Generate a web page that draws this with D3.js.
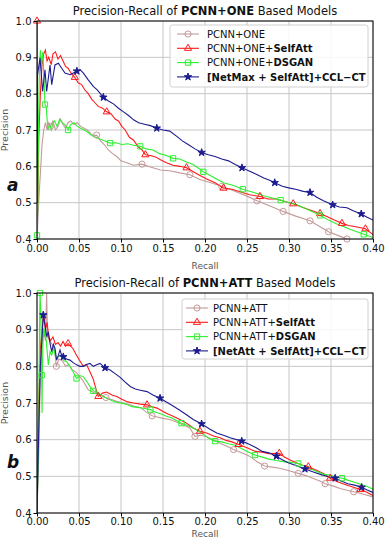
<!DOCTYPE html>
<html>
<head>
<meta charset="utf-8">
<script src="https://cdn.jsdelivr.net/npm/d3@7"></script>
<style>
  body { margin: 0; background: #fff; }
  text { font-family: "DejaVu Sans", sans-serif; }
</style>
</head>
<body>
<svg id="chart" width="387" height="537"></svg>
<script>
// ---- data: [recall, precision] ----
var xTicks = [0, 0.05, 0.10, 0.15, 0.20, 0.25, 0.30, 0.35, 0.40];
var yTicks = [0.4, 0.5, 0.6, 0.7, 0.8, 0.9, 1.0];

// panel a : PCNN+ONE based
var oneBase = [[0.000,0.40],[0.002,0.50],[0.004,0.58],[0.006,0.66],[0.008,0.70],[0.010,0.72],[0.012,0.70],[0.014,0.72],[0.016,0.71],[0.019,0.725],[0.022,0.70],[0.025,0.71],[0.028,0.73],[0.031,0.715],[0.034,0.705],[0.037,0.72],[0.040,0.725],[0.044,0.715],[0.048,0.72],[0.052,0.71],[0.056,0.705],[0.060,0.70],[0.064,0.69],[0.068,0.685],[0.071,0.686],[0.075,0.672],[0.080,0.66],[0.085,0.645],[0.090,0.635],[0.095,0.627],[0.100,0.615],[0.107,0.61],[0.115,0.603],[0.125,0.606],[0.135,0.598],[0.147,0.59],[0.158,0.588],[0.170,0.582],[0.182,0.577],[0.194,0.564],[0.205,0.556],[0.220,0.545],[0.235,0.532],[0.250,0.518],[0.262,0.505],[0.278,0.49],[0.293,0.476],[0.308,0.463],[0.325,0.45],[0.336,0.435],[0.347,0.42],[0.358,0.41],[0.369,0.40],[0.380,0.39]];
var oneBaseMarks = [0.016, 0.071, 0.125, 0.182, 0.220, 0.262, 0.293, 0.325, 0.347, 0.369];

var oneSelf = [[0.000,1.0],[0.001,0.50],[0.002,0.67],[0.004,0.80],[0.006,0.88],[0.008,0.91],[0.010,0.92],[0.012,0.89],[0.014,0.90],[0.017,0.88],[0.019,0.91],[0.022,0.915],[0.025,0.895],[0.028,0.905],[0.031,0.89],[0.034,0.875],[0.037,0.87],[0.041,0.855],[0.045,0.845],[0.049,0.83],[0.053,0.825],[0.057,0.81],[0.061,0.80],[0.065,0.785],[0.069,0.775],[0.073,0.765],[0.078,0.76],[0.083,0.75],[0.088,0.745],[0.093,0.73],[0.097,0.725],[0.101,0.71],[0.105,0.70],[0.110,0.68],[0.115,0.672],[0.120,0.655],[0.125,0.645],[0.129,0.632],[0.135,0.63],[0.141,0.626],[0.147,0.618],[0.154,0.61],[0.162,0.603],[0.170,0.60],[0.178,0.596],[0.186,0.585],[0.194,0.575],[0.202,0.565],[0.212,0.555],[0.222,0.54],[0.232,0.537],[0.242,0.53],[0.253,0.522],[0.2655,0.517],[0.275,0.51],[0.285,0.51],[0.295,0.503],[0.305,0.497],[0.315,0.488],[0.325,0.48],[0.337,0.47],[0.345,0.462],[0.354,0.452],[0.363,0.443],[0.371,0.437],[0.381,0.433],[0.391,0.428],[0.400,0.412]];
var oneSelfMarks = [0.000, 0.045, 0.083, 0.129, 0.178, 0.222, 0.2655, 0.305, 0.337, 0.363, 0.391];

var oneGan = [[0.000,0.41],[0.001,0.50],[0.002,0.75],[0.003,0.88],[0.004,0.92],[0.005,0.87],[0.006,0.90],[0.007,0.915],[0.008,0.86],[0.0095,0.77],[0.011,0.765],[0.012,0.73],[0.013,0.70],[0.015,0.715],[0.017,0.70],[0.019,0.72],[0.021,0.725],[0.024,0.71],[0.027,0.73],[0.030,0.72],[0.033,0.715],[0.037,0.70],[0.040,0.715],[0.044,0.72],[0.048,0.71],[0.052,0.705],[0.056,0.70],[0.060,0.695],[0.065,0.685],[0.070,0.68],[0.075,0.675],[0.081,0.67],[0.087,0.664],[0.094,0.665],[0.101,0.66],[0.108,0.662],[0.115,0.658],[0.123,0.655],[0.130,0.648],[0.138,0.645],[0.146,0.635],[0.154,0.63],[0.162,0.622],[0.170,0.62],[0.178,0.612],[0.186,0.605],[0.198,0.585],[0.210,0.57],[0.222,0.555],[0.233,0.548],[0.245,0.537],[0.258,0.528],[0.270,0.519],[0.280,0.513],[0.290,0.507],[0.300,0.50],[0.309,0.495],[0.318,0.485],[0.328,0.475],[0.337,0.465],[0.347,0.452],[0.357,0.441],[0.366,0.433],[0.375,0.425],[0.389,0.413],[0.400,0.404]];
var oneGanMarks = [0.000, 0.0095, 0.037, 0.087, 0.123, 0.162, 0.198, 0.245, 0.290, 0.337, 0.389];

var oneNet = [[0.000,0.50],[0.0005,0.85],[0.0036,0.898],[0.0067,0.806],[0.0095,0.866],[0.0115,0.806],[0.0155,0.879],[0.0175,0.825],[0.0214,0.879],[0.0254,0.884],[0.0294,0.87],[0.0333,0.857],[0.0393,0.852],[0.0433,0.857],[0.0475,0.862],[0.0512,0.866],[0.055,0.857],[0.061,0.838],[0.067,0.82],[0.072,0.81],[0.079,0.79],[0.085,0.78],[0.091,0.772],[0.097,0.76],[0.103,0.75],[0.109,0.74],[0.115,0.728],[0.121,0.72],[0.128,0.716],[0.135,0.712],[0.1426,0.705],[0.150,0.70],[0.158,0.697],[0.166,0.683],[0.173,0.67],[0.180,0.66],[0.188,0.648],[0.196,0.638],[0.204,0.632],[0.212,0.627],[0.220,0.62],[0.228,0.615],[0.236,0.605],[0.244,0.596],[0.252,0.588],[0.261,0.578],[0.270,0.568],[0.277,0.562],[0.283,0.555],[0.292,0.545],[0.301,0.54],[0.309,0.536],[0.317,0.531],[0.325,0.528],[0.333,0.515],[0.341,0.505],[0.352,0.494],[0.360,0.488],[0.369,0.486],[0.377,0.477],[0.386,0.469],[0.393,0.46],[0.400,0.452]];
var oneNetMarks = [0.0475, 0.079, 0.1426, 0.196, 0.244, 0.283, 0.325, 0.352, 0.386];

// panel b : PCNN+ATT based
var attBase = [[0.000,0.40],[0.002,0.55],[0.004,0.78],[0.006,0.86],[0.008,0.90],[0.010,0.87],[0.0115,1.0],[0.0125,0.88],[0.015,0.87],[0.018,0.86],[0.021,0.845],[0.023,0.80],[0.026,0.82],[0.030,0.815],[0.034,0.80],[0.038,0.805],[0.042,0.79],[0.046,0.785],[0.050,0.775],[0.055,0.76],[0.061,0.736],[0.068,0.728],[0.075,0.723],[0.082,0.715],[0.088,0.71],[0.095,0.705],[0.103,0.70],[0.111,0.695],[0.117,0.69],[0.123,0.688],[0.130,0.675],[0.137,0.665],[0.143,0.662],[0.150,0.658],[0.158,0.655],[0.166,0.648],[0.174,0.64],[0.182,0.632],[0.188,0.609],[0.195,0.612],[0.202,0.608],[0.210,0.60],[0.218,0.59],[0.226,0.582],[0.234,0.573],[0.243,0.565],[0.253,0.555],[0.262,0.54],[0.271,0.528],[0.280,0.525],[0.289,0.522],[0.300,0.515],[0.311,0.508],[0.320,0.502],[0.329,0.494],[0.336,0.488],[0.343,0.48],[0.352,0.474],[0.361,0.467],[0.369,0.462],[0.377,0.458],[0.388,0.452],[0.400,0.444]];
var attBaseMarks = [0.023, 0.082, 0.137, 0.188, 0.234, 0.271, 0.311, 0.343, 0.377];

var attSelf = [[0.000,0.40],[0.002,0.70],[0.004,0.85],[0.006,0.90],[0.008,0.945],[0.010,0.90],[0.012,0.92],[0.014,0.88],[0.016,0.87],[0.019,0.88],[0.022,0.86],[0.025,0.865],[0.028,0.855],[0.031,0.868],[0.034,0.855],[0.037,0.862],[0.040,0.855],[0.043,0.848],[0.047,0.83],[0.051,0.815],[0.055,0.80],[0.059,0.805],[0.063,0.785],[0.067,0.765],[0.070,0.74],[0.073,0.718],[0.078,0.727],[0.083,0.73],[0.089,0.722],[0.095,0.718],[0.101,0.71],[0.108,0.703],[0.115,0.70],[0.123,0.697],[0.131,0.695],[0.137,0.69],[0.143,0.686],[0.150,0.677],[0.156,0.67],[0.162,0.664],[0.170,0.655],[0.178,0.645],[0.186,0.632],[0.194,0.623],[0.202,0.618],[0.210,0.61],[0.218,0.605],[0.225,0.598],[0.232,0.594],[0.240,0.587],[0.250,0.578],[0.260,0.568],[0.268,0.566],[0.276,0.562],[0.2885,0.563],[0.295,0.552],[0.302,0.544],[0.310,0.536],[0.316,0.53],[0.323,0.526],[0.332,0.517],[0.341,0.508],[0.349,0.495],[0.357,0.486],[0.365,0.479],[0.373,0.473],[0.385,0.464],[0.392,0.457],[0.400,0.448]];
var attSelfMarks = [0.037, 0.073, 0.131, 0.194, 0.240, 0.2885, 0.323, 0.349, 0.385];

var attGan = [[0.000,0.40],[0.002,0.60],[0.003,0.90],[0.0036,1.0],[0.0045,0.95],[0.0056,0.776],[0.006,0.673],[0.0065,0.80],[0.0075,0.904],[0.0085,0.88],[0.0095,0.904],[0.011,0.87],[0.0135,0.804],[0.0155,0.84],[0.0175,0.831],[0.020,0.85],[0.0225,0.82],[0.0254,0.826],[0.029,0.83],[0.032,0.815],[0.0353,0.813],[0.039,0.80],[0.043,0.785],[0.047,0.767],[0.051,0.775],[0.055,0.772],[0.059,0.76],[0.063,0.745],[0.067,0.733],[0.071,0.73],[0.076,0.722],[0.081,0.715],[0.087,0.709],[0.093,0.703],[0.099,0.70],[0.106,0.697],[0.113,0.69],[0.120,0.688],[0.128,0.685],[0.135,0.682],[0.141,0.675],[0.148,0.67],[0.154,0.664],[0.160,0.66],[0.166,0.652],[0.172,0.645],[0.180,0.638],[0.190,0.627],[0.198,0.615],[0.205,0.603],[0.212,0.596],[0.220,0.594],[0.228,0.589],[0.236,0.585],[0.244,0.575],[0.252,0.566],[0.2595,0.558],[0.267,0.553],[0.276,0.547],[0.285,0.543],[0.293,0.54],[0.302,0.538],[0.311,0.535],[0.318,0.528],[0.326,0.52],[0.333,0.513],[0.341,0.506],[0.349,0.503],[0.356,0.499],[0.363,0.495],[0.371,0.489],[0.378,0.484],[0.386,0.478],[0.393,0.472],[0.400,0.465]];
var attGanMarks = [0.0036, 0.0056, 0.047, 0.067, 0.135, 0.172, 0.212, 0.2595, 0.311, 0.363];

var attNet = [[0.000,0.40],[0.002,0.62],[0.004,0.80],[0.006,0.88],[0.0075,0.94],[0.0095,0.913],[0.0115,0.881],[0.0135,0.894],[0.0155,0.863],[0.0175,0.84],[0.0195,0.86],[0.0214,0.849],[0.0234,0.817],[0.0254,0.83],[0.0274,0.845],[0.0293,0.83],[0.0313,0.826],[0.035,0.82],[0.0393,0.817],[0.043,0.81],[0.0472,0.804],[0.051,0.80],[0.055,0.80],[0.059,0.805],[0.063,0.808],[0.067,0.80],[0.071,0.804],[0.075,0.808],[0.081,0.796],[0.087,0.79],[0.093,0.78],[0.099,0.77],[0.105,0.757],[0.111,0.745],[0.117,0.738],[0.123,0.735],[0.131,0.731],[0.138,0.722],[0.1465,0.713],[0.154,0.703],[0.162,0.692],[0.170,0.68],[0.178,0.668],[0.186,0.655],[0.196,0.643],[0.205,0.63],[0.214,0.618],[0.222,0.612],[0.230,0.605],[0.2437,0.596],[0.252,0.588],[0.261,0.578],[0.268,0.568],[0.276,0.564],[0.285,0.555],[0.292,0.545],[0.299,0.537],[0.309,0.529],[0.319,0.52],[0.329,0.512],[0.339,0.504],[0.347,0.499],[0.355,0.495],[0.362,0.487],[0.370,0.48],[0.378,0.476],[0.3865,0.47],[0.393,0.463],[0.400,0.456]];
var attNetMarks = [0.0075, 0.0313, 0.081, 0.1465, 0.196, 0.2437, 0.285, 0.319, 0.355, 0.3865];

var namesA = [["PCNN+ONE", ""], ["PCNN+ONE+", "SelfAtt"], ["PCNN+ONE+", "DSGAN"], ["", "[NetMax + SelfAtt]+CCL\u2212CT"]];
var namesB = [["PCNN+ATT", ""], ["PCNN+ATT+", "SelfAtt"], ["PCNN+ATT+", "DSGAN"], ["", "[NetAtt + SelfAtt]+CCL\u2212CT"]];

var colors = ["#c49a9a", "#ff1a1a", "#2ef02e", "#1c1c8e"];
var symbols = [d3.symbolCircle, d3.symbolTriangle, d3.symbolSquare, d3.symbolStar];
var symSize = [30, 22, 28, 17];

var svg = d3.select("#chart");
var x = d3.scaleLinear().domain([0, 0.4]).range([37, 373]);

var panels = [
  {id: "a", top: 21, bottom: 239, title: "PCNN+ONE", names: namesA, labelY: 191, recallY: 269, pad: 2,
   series: [[oneBase, oneBaseMarks], [oneSelf, oneSelfMarks], [oneGan, oneGanMarks], [oneNet, oneNetMarks]],
   legend: {x: 170, y: 25, w: 198, h: 62, lx: 177, tx: 207}},
  {id: "b", top: 293, bottom: 513, title: "PCNN+ATT", names: namesB, labelY: 468, recallY: 536.5, pad: 1.5,
   series: [[attBase, attBaseMarks], [attSelf, attSelfMarks], [attGan, attGanMarks], [attNet, attNetMarks]],
   legend: {x: 182, y: 299, w: 186, h: 60, lx: 186, tx: 213}}
];

panels.forEach(function (p) {
  var y = d3.scaleLinear().domain([0.4, 1.0]).range([p.bottom, p.top]);
  var g = svg.append("g");

  g.append("clipPath").attr("id", "clip-" + p.id)
    .append("rect").attr("x", x(0)).attr("y", p.top)
    .attr("width", x(0.4) - x(0)).attr("height", p.bottom - p.top);

  // grid
  g.selectAll(".gx").data(xTicks).enter().append("line")
    .attr("x1", function (d) { return x(d); }).attr("x2", function (d) { return x(d); })
    .attr("y1", p.top).attr("y2", p.bottom)
    .style("stroke", "#c6c6c6").style("stroke-width", 1);
  g.selectAll(".gy").data(yTicks).enter().append("line")
    .attr("y1", function (d) { return y(d); }).attr("y2", function (d) { return y(d); })
    .attr("x1", x(0)).attr("x2", x(0.4))
    .style("stroke", "#c6c6c6").style("stroke-width", 1);

  // curves
  var line = d3.line().x(function (d) { return x(d[0]); }).y(function (d) { return y(d[1]); });
  var plot = g.append("g").attr("clip-path", "url(#clip-" + p.id + ")");
  p.series.forEach(function (s, i) {
    plot.append("path").datum(s[0])
      .attr("d", line)
      .style("fill", "none").style("stroke", colors[i]).style("stroke-width", 1.1);
  });
  var marks = g.append("g");
  p.series.forEach(function (s, i) {
    var pts = s[0].filter(function (d) { return s[1].indexOf(d[0]) >= 0; });
    marks.selectAll(".m" + i).data(pts).enter().append("path")
      .attr("d", d3.symbol().type(symbols[i]).size(symSize[i]))
      .attr("transform", function (d) { return "translate(" + x(d[0]) + "," + y(d[1]) + ")"; })
      .style("fill", i === 3 ? colors[i] : "none")
      .style("stroke", colors[i]).style("stroke-width", 1);
  });

  // axes
  g.append("g").attr("transform", "translate(0," + p.bottom + ")")
    .call(d3.axisBottom(x).tickValues(xTicks).tickFormat(d3.format(".2f")).tickSize(3.5).tickPadding(p.pad))
    .call(function (a) {
      a.select(".domain").remove();
      a.selectAll("text").style("font-size", "10px").style("font-family", "DejaVu Sans").style("fill", "#111");
    });
  g.append("g").attr("transform", "translate(" + x(0) + ",0)")
    .call(d3.axisLeft(y).tickValues(yTicks).tickFormat(d3.format(".1f")).tickSize(3.5).tickPadding(2))
    .call(function (a) {
      a.select(".domain").remove();
      a.selectAll("text").style("font-size", "10px").style("font-family", "DejaVu Sans").style("fill", "#111");
    });
  g.append("rect").attr("x", x(0)).attr("y", p.top)
    .attr("width", x(0.4) - x(0)).attr("height", p.bottom - p.top)
    .style("fill", "none").style("stroke", "#000").style("stroke-width", 1);

  // titles and labels
  var t = g.append("text").attr("x", (x(0) + x(0.4)) / 2).attr("y", p.top - 6)
    .attr("text-anchor", "middle").style("font-size", "11.5px").style("fill", "#111");
  t.append("tspan").text("Precision-Recall of ");
  t.append("tspan").style("font-weight", "bold").text(p.title);
  t.append("tspan").text(" Based Models");

  g.append("text").attr("x", (x(0) + x(0.4)) / 2).attr("y", p.recallY)
    .attr("text-anchor", "middle").style("font-size", "9px").style("fill", "#555").text("Recall");
  g.append("text").attr("transform", "translate(8," + (p.top + p.bottom) / 2 + ") rotate(-90)")
    .attr("text-anchor", "middle").style("font-size", "9.5px").style("fill", "#555").text("Precision");
  g.append("text").attr("x", 7).attr("y", p.labelY)
    .style("font-size", "17px").style("font-weight", "bold").style("font-style", "italic")
    .style("fill", "#111").text(p.id);

  // legend
  var L = p.legend;
  var lg = g.append("g");
  lg.append("rect").attr("x", L.x).attr("y", L.y).attr("width", L.w).attr("height", L.h)
    .attr("rx", 2.5).style("fill", "#fff").style("fill-opacity", 0.85)
    .style("stroke", "#d0d0d0").style("stroke-width", 1);
  p.names.forEach(function (n, i) {
    var ly = L.y + 9 + i * 14.3;
    lg.append("line").attr("x1", L.lx).attr("x2", L.lx + 22).attr("y1", ly).attr("y2", ly)
      .style("stroke", colors[i]).style("stroke-width", 1.1);
    lg.append("path").attr("d", d3.symbol().type(symbols[i]).size(symSize[i]))
      .attr("transform", "translate(" + (L.lx + 11) + "," + ly + ")")
      .style("fill", i === 3 ? colors[i] : "none").style("stroke", colors[i]);
    var tx = lg.append("text").attr("x", L.tx).attr("y", ly + 3.6)
      .style("font-size", "10px").style("fill", "#111");
    tx.append("tspan").text(n[0]);
    tx.append("tspan").style("font-weight", "bold").text(n[1]);
  });
});
</script>
</body>
</html>
